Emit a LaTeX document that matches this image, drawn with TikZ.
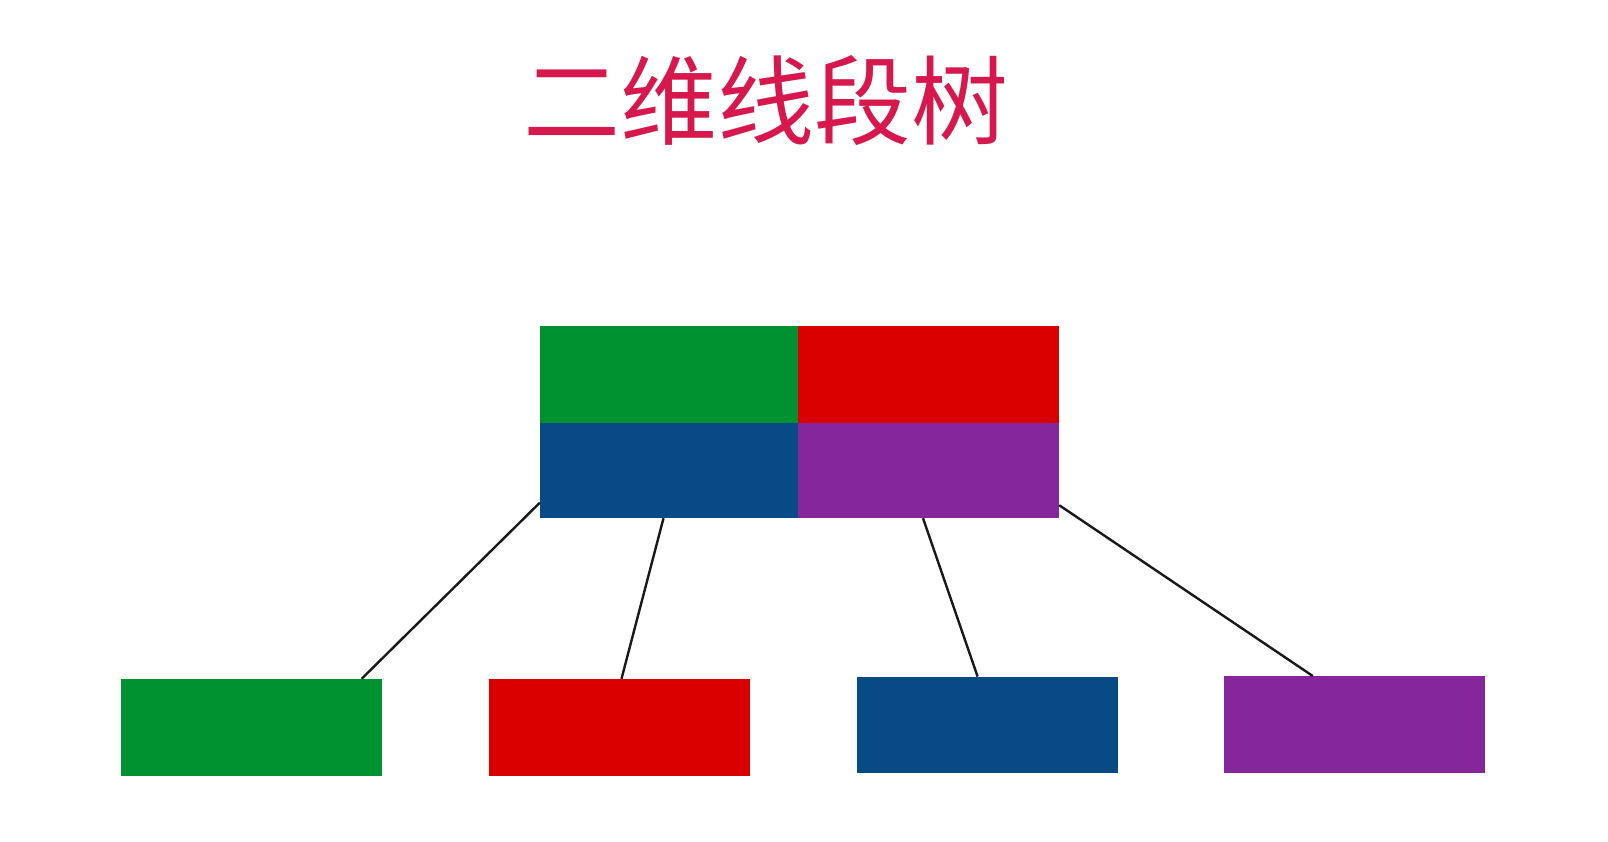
\documentclass[tikz,border=0pt]{standalone}
\usepackage{fontspec}
\newfontfamily\cjk{Noto Sans CJK SC}

\definecolor{segGreen}{HTML}{009130}
\definecolor{segRed}{HTML}{DB0000}
\definecolor{segBlue}{HTML}{074A86}
\definecolor{segPurple}{HTML}{85279A}
\definecolor{segTitle}{HTML}{D6184D}

\tikzset{
  quad/.style={fill=#1, inner sep=0pt, minimum width=261pt, minimum height=97pt},
  leaf/.style={fill=#1, inner sep=0pt, minimum width=261pt, minimum height=97.5pt},
  branch/.style={black!90, line width=2.4pt}
}

\begin{document}
\begin{tikzpicture}[x=1pt,y=-1pt]

\useasboundingbox (0,0) rectangle (1608,842) ;

\node[text=segTitle, font=\cjk\fontsize{97}{110}\selectfont] (title) at (766,101) {二维线段树} ;

% root node
\node[quad=segGreen, minimum width=258pt] (q_green) at (669,374.5) {} ;
\node[quad=segRed] (q_red) at (928.5,374.5) {} ;
\node[quad=segBlue, minimum width=258pt, minimum height=95pt] (q_blue) at (669,470.5) {} ;
\node[quad=segPurple, minimum height=95pt] (q_purple) at (928.5,470.5) {} ;

% children
\node[leaf=segGreen] (c_green) at (251,727.7) {} ;
\node[leaf=segRed] (c_red) at (619,727.7) {} ;
\node[leaf=segBlue, minimum height=96.5pt] (c_blue) at (987.6,725) {} ;
\node[leaf=segPurple, minimum height=96.5pt] (c_purple) at (1354.8,724.5) {} ;

\draw[branch] ([yshift=15.5pt]q_blue.south west) -- ([xshift=-20pt]c_green.north east) ;
\draw[branch] ([xshift=-5.5pt]q_blue.south) -- ([xshift=2.5pt]c_red.north) ;
\draw[branch] ([xshift=-5.5pt]q_purple.south) -- ([xshift=-10pt]c_blue.north) ;
\draw[branch] ([yshift=13pt]q_purple.south east) -- ([xshift=-42pt]c_purple.north) ;

\end{tikzpicture}
\end{document}
